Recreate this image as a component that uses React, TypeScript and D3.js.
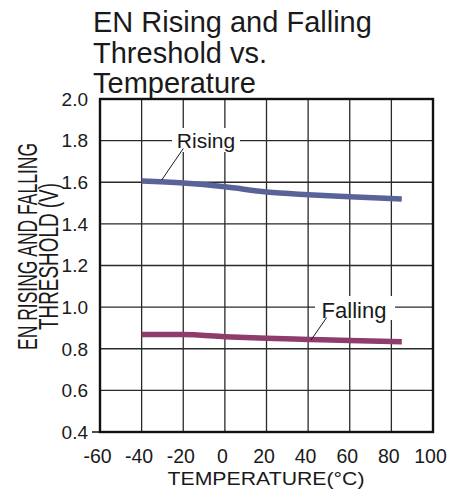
import * as d3 from "d3";

// data
const temps = [-40, -20, 0, 20, 40, 60, 85];
const rising = [1.606, 1.596, 1.578, 1.553, 1.54, 1.53, 1.52];
const falling = [0.869, 0.868, 0.858, 0.85, 0.845, 0.84, 0.834];

const xTicks = [-60, -40, -20, 0, 20, 40, 60, 80, 100];
const yTicks = [0.4, 0.6, 0.8, 1.0, 1.2, 1.4, 1.6, 1.8, 2.0];

const titleLines = ["EN Rising and Falling", "Threshold vs.", "Temperature"];

const COLORS = {
  rising: "#5a6398",
  falling: "#8f3b6b",
  grid: "#2a2a2a",
};

const FONT = "Liberation Sans, Arial, Helvetica, sans-serif";

const W = 459;
const H = 493;
const plot = { left: 100, right: 433, top: 99, bottom: 432 };

export default function App() {
  const x = d3.scaleLinear().domain([-60, 100]).range([plot.left, plot.right]);
  const y = d3.scaleLinear().domain([0.4, 2.0]).range([plot.bottom, plot.top]);

  const line = d3
    .line<number>()
    .x((_, i) => x(temps[i]))
    .y((d) => y(d))
    .curve(d3.curveMonotoneX);

  return (
    <svg
      width={W}
      height={H}
      style={{ position: "absolute", left: 0, top: 0, background: "#fff" }}
      fontFamily={FONT}
    >
      {/* title */}
      {titleLines.map((t, i) => (
        <text key={t} x={93} y={32 + i * 30.5} fontSize={29} fill="#1a1a1a">
          {t}
        </text>
      ))}

      {/* grid */}
      {xTicks.slice(1, -1).map((t) => (
        <line
          key={"gx" + t}
          x1={x(t)}
          x2={x(t)}
          y1={plot.top}
          y2={plot.bottom}
          stroke={COLORS.grid}
          strokeWidth={1.3}
        />
      ))}
      {yTicks.slice(1, -1).map((t) => (
        <line
          key={"gy" + t}
          x1={plot.left}
          x2={plot.right}
          y1={y(t)}
          y2={y(t)}
          stroke={COLORS.grid}
          strokeWidth={1.3}
        />
      ))}

      {/* frame */}
      <rect
        x={plot.left}
        y={plot.top}
        width={plot.right - plot.left}
        height={plot.bottom - plot.top}
        fill="none"
        stroke="#111"
        strokeWidth={2.4}
      />
      <line x1={plot.left - 8} x2={plot.left} y1={y(0.4)} y2={y(0.4)} stroke="#111" strokeWidth={1.5} />

      {/* series */}
      <path d={line(rising) ?? ""} fill="none" stroke={COLORS.rising} strokeWidth={5.5} />
      <path d={line(falling) ?? ""} fill="none" stroke={COLORS.falling} strokeWidth={5.5} />

      {/* annotations */}
      <rect x={172} y={128} width={68} height={24} fill="#fff" />
      <text x={206} y={148} fontSize={21} textAnchor="middle" fill="#1a1a1a">
        Rising
      </text>
      <line x1={183.3} y1={148.5} x2={161.7} y2={180} stroke="#1a1a1a" strokeWidth={1} />

      <rect x={315} y={296} width={80} height={24} fill="#fff" />
      <text x={354} y={318} fontSize={22} textAnchor="middle" fill="#1a1a1a">
        Falling
      </text>
      <line x1={326.7} y1={317.5} x2={311} y2={340} stroke="#1a1a1a" strokeWidth={1} />

      {/* y tick labels */}
      {yTicks.map((t) => (
        <text
          key={"yl" + t}
          x={88}
          y={y(t)}
          dy="0.36em"
          fontSize={19}
          textAnchor="end"
          fill="#1a1a1a"
        >
          {d3.format(".1f")(t)}
        </text>
      ))}

      {/* x tick labels */}
      {xTicks.map((t) => (
        <text
          key={"xl" + t}
          x={x(t) - 2.5}
          y={463}
          fontSize={19.5}
          textAnchor="middle"
          fill="#1a1a1a"
        >
          {t}
        </text>
      ))}

      {/* axis titles */}
      <text
        x={266}
        y={485}
        fontSize={19}
        textAnchor="middle"
        textLength={197}
        lengthAdjust="spacingAndGlyphs"
        fill="#1a1a1a"
      >
        TEMPERATURE(°C)
      </text>
      <text
        transform="translate(37,246.5) rotate(-90)"
        fontSize={27}
        textAnchor="middle"
        textLength={207}
        lengthAdjust="spacingAndGlyphs"
        fill="#1a1a1a"
      >
        EN RISING AND FALLING
      </text>
      <text
        transform="translate(57.5,256.5) rotate(-90)"
        fontSize={27}
        textAnchor="middle"
        textLength={147}
        lengthAdjust="spacingAndGlyphs"
        fill="#1a1a1a"
      >
        THRESHOLD (V)
      </text>
    </svg>
  );
}
